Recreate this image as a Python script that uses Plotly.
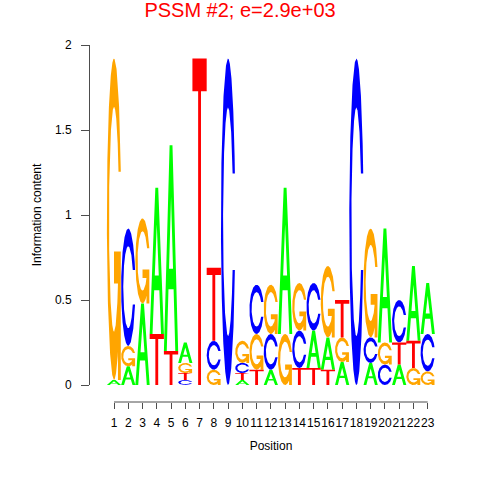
import numpy as np
import plotly.graph_objects as go

# ---- data: information content (bits) per letter at each position ----
positions = list(range(1, 24))
A = [0.03, 0.11, 0.48, 0.86, 1.21, 0.12, 0.00, 0.00, 0.00, 0.03, 0.00, 0.09,
     0.86, 0.00, 0.22, 0.19, 0.135, 0.00, 0.13, 0.67, 0.12, 0.44, 0.30]
C = [0.00, 0.69, 0.00, 0.00, 0.00, 0.03, 0.00, 0.17, 1.92, 0.06, 0.29, 0.21,
     0.00, 0.22, 0.28, 0.00, 0.00, 1.92, 0.15, 0.12, 0.25, 0.00, 0.22]
G = [1.89, 0.12, 0.50, 0.00, 0.00, 0.06, 0.00, 0.09, 0.00, 0.13, 0.21, 0.29,
     0.30, 0.28, 0.00, 0.42, 0.145, 0.00, 0.64, 0.13, 0.00, 0.10, 0.08]
T = [0.00, 0.00, 0.00, 0.30, 0.20, 0.04, 1.92, 0.43, 0.00, 0.04, 0.09, 0.00,
     0.00, 0.10, 0.10, 0.09, 0.22, 0.00, 0.00, 0.00, 0.13, 0.16, 0.00]
tick_labels = [str(p) for p in positions]
y_ticks = [0, 0.5, 1, 1.5, 2]
y_tick_labels = ["0", "0.5", "1", "1.5", "2"]

colors = {"A": "#00FF00", "C": "#0000FF", "G": "#FFA500", "T": "#FF0000"}

# ---- glyph outlines in a unit box (seqLogo style) ----
def _c_outline():
    a1 = np.linspace(0.3 + np.pi / 2, np.pi, 100)
    a2 = np.linspace(np.pi, 1.5 * np.pi, 100)
    xl1, yl1 = 0.5 + 0.5 * np.sin(a1), 0.5 + 0.5 * np.cos(a1)
    xl2, yl2 = 0.5 + 0.5 * np.sin(a2), 0.5 + 0.5 * np.cos(a2)
    xl, yl = np.concatenate([xl1, xl2]), np.concatenate([yl1, yl2])
    x = np.concatenate([xl, xl[::-1]])
    y = np.concatenate([yl, 1 - yl[::-1]])
    xi1, yi1 = 0.5 + 0.35 * np.sin(a1), 0.5 + 0.35 * np.cos(a1)
    keep = yi1 <= yl1.max()
    xi1, yi1 = xi1[keep], yi1[keep].copy()
    yi1[0] = yl1.max()
    xi2, yi2 = 0.5 + 0.35 * np.sin(a2), 0.5 + 0.35 * np.cos(a2)
    xi, yi = np.concatenate([xi1, xi2]), np.concatenate([yi1, yi2])
    x1 = np.concatenate([xi, xi[::-1]])
    y1 = np.concatenate([yi, 1 - yi[::-1]])
    x = np.concatenate([x, x1[::-1]])
    y = np.concatenate([y, y1[::-1]])
    return x, y, xl1.max()

def glyph(letter):
    """return list of (xs, ys, is_hole) polygons in unit box"""
    if letter == "A":
        ox = np.array([0, 4, 6, 10, 8, 6.8, 3.2, 2, 0]) * 0.1
        oy = np.array([0, 10, 10, 0, 0, 3, 3, 0, 0]) * 0.1
        hx = np.array([3.6, 5, 6.4, 3.6]) * 0.1
        hy = np.array([4, 7.5, 4, 4]) * 0.1
        return [(ox, oy, False), (hx, hy, True)]
    if letter == "C":
        x, y, _ = _c_outline()
        return [(x, y, False)]
    if letter == "G":
        x, y, r1 = _c_outline()
        h1 = 0.4
        bx = np.array([r1, 0.5, 0.5, r1 - 0.2, r1 - 0.2, r1, r1])
        by = np.array([h1, h1, h1 - 0.1, h1 - 0.1, 0, 0, h1])
        return [(x[::-1], y[::-1], False), (bx, by, False)]
    if letter == "T":
        x = np.array([0, 10, 10, 6, 6, 4, 4, 0]) * 0.1
        y = np.array([10, 10, 9, 9, 0, 0, 9, 9]) * 0.1
        return [(x, y, False)]

GLYPHS = {k: glyph(k) for k in "ACGT"}

heights = {"A": A, "C": C, "G": G, "T": T}
fills = {k: ([], []) for k in "ACGT"}
holes = ([], [])
for i, p in enumerate(positions):
    col = sorted(((heights[k][i], k) for k in "ACGT"), key=lambda t: t[0])
    base = 0.0
    for h, k in col:
        if h <= 0:
            continue
        for gx, gy, is_hole in GLYPHS[k]:
            xs = list(p - 0.5 + gx) + [None]
            ys = list(base + gy * h) + [None]
            tgt = holes if is_hole else fills[k]
            tgt[0].extend(xs)
            tgt[1].extend(ys)
        base += h

fig = go.Figure()
for k in "ACGT":
    fig.add_trace(go.Scatter(x=fills[k][0], y=fills[k][1], mode="lines",
                             fill="toself", fillcolor=colors[k],
                             line=dict(width=0, color=colors[k]),
                             hoverinfo="skip", showlegend=False, name=k))
fig.add_trace(go.Scatter(x=holes[0], y=holes[1], mode="lines", fill="toself",
                         fillcolor="white", line=dict(width=0, color="white"),
                         hoverinfo="skip", showlegend=False))

# pixel layout
L, R, TOP, B = 90, 28, 45, 78
W = H = 480
s = (427.7 - 114.0) / 22.0
xmin = positions[0] - (114.0 - L) / s
xmax = positions[0] + (W - R - 114.0) / s
paper_h = H - TOP - B
font = "Liberation Sans, Arial, sans-serif"
axis_col = "#4d4d4d"

fig.update_layout(
    width=W, height=H,
    margin=dict(l=L, r=R, t=TOP, b=B, pad=0, autoexpand=False),
    plot_bgcolor="white", paper_bgcolor="white",
    font=dict(family=font, size=12, color="black"),
    title=dict(text="PSSM #2; e=2.9e+03", font=dict(size=20, color="#FF0000", family=font),
               x=0.5, xref="container", xanchor="center",
               y=1 - 10 / H, yref="container", yanchor="middle"),
    xaxis=dict(range=[xmin, xmax], anchor="free", position=0, automargin=False,
               showline=False, showgrid=False, zeroline=False,
               tickmode="array", tickvals=positions, ticktext=tick_labels,
               tickangle=0,
               ticks="outside", ticklen=6, tickcolor=axis_col, tickwidth=1,
               ticklabelstandoff=4,
               tickfont=dict(size=12, family=font, color="black"),
               title=dict(text="Position", font=dict(size=12, family=font), standoff=12)),
    yaxis=dict(range=[0, 2], domain=[(402 - 385) / paper_h, 1], automargin=False,
               showline=True, linecolor=axis_col, linewidth=1,
               showgrid=False, zeroline=False,
               tickmode="array", tickvals=y_ticks, ticktext=y_tick_labels,
               ticks="outside", ticklen=8, tickcolor=axis_col, tickwidth=1,
               ticklabelstandoff=7,
               tickfont=dict(size=12, family=font, color="black"),
               title=dict(text="Information content", font=dict(size=12, family=font), standoff=10)),
    shapes=[dict(type="line", xref="x", yref="paper",
                 x0=positions[0], x1=positions[-1], y0=0, y1=0,
                 line=dict(color=axis_col, width=1))],
)

fig.write_html("out.html", config={"displayModeBar": False},
               post_script="document.body.style.margin='0';")
